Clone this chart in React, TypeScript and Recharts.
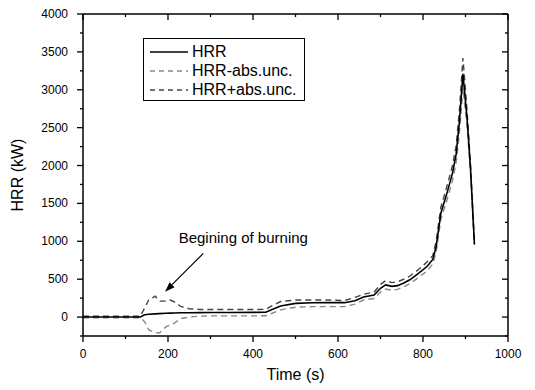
import React from 'react';
import { ComposedChart, Line, XAxis, YAxis, ReferenceLine, Legend } from 'recharts';

// time (s) and heat release rate (kW)
const time = [0, 50, 100, 135, 145, 155, 170, 180, 195, 205, 215, 230, 250, 275, 300, 350, 400, 430, 445, 465, 500, 540, 580, 615, 640, 660, 685, 700, 712, 727, 740, 755, 770, 790, 810, 823, 831, 842, 854, 869, 878, 886, 894, 904, 912, 921];
const hrr = [0, 0, 0, 0, 30, 38, 42, 45, 50, 52, 54, 56, 57, 58, 60, 60, 62, 63, 100, 145, 180, 188, 190, 190, 215, 265, 290, 380, 425, 405, 415, 450, 495, 580, 670, 760, 930, 1370, 1590, 1890, 2150, 2600, 3210, 2600, 1940, 960];
const hrrMinus = [-10, -10, -10, -10, -60, -170, -205, -210, -130, -105, -80, -20, 0, 12, 15, 15, 15, 18, 50, 95, 130, 138, 138, 138, 170, 225, 245, 330, 370, 355, 365, 400, 445, 525, 610, 700, 860, 1290, 1500, 1790, 2040, 2450, 3020, 2500, 1880, 950];
const hrrPlus = [10, 10, 10, 10, 120, 230, 275, 210, 210, 225, 200, 140, 110, 100, 100, 100, 100, 102, 150, 205, 225, 225, 225, 218, 260, 300, 330, 430, 480, 455, 465, 500, 545, 630, 730, 810, 1000, 1450, 1680, 1990, 2260, 2750, 3420, 2700, 2000, 970];

const xTicks = [0, 100, 200, 300, 400, 500, 600, 700, 800, 900, 1000];
const yTicks = [-250, 0, 250, 500, 750, 1000, 1250, 1500, 1750, 2000, 2250, 2500, 2750, 3000, 3250, 3500, 3750, 4000];

const seriesNames = ['HRR', 'HRR-abs.unc.', 'HRR+abs.unc.'];
const arrowFrom = { x: 283, y: 840 };
const arrowTo = { x: 193, y: 334 };
const note = 'Begining of burning';

const data = time.map((t, i) => ({ time: t, hrr: hrr[i], minus: hrrMinus[i], plus: hrrPlus[i] }));

const FONT = 'Arial, "Liberation Sans", sans-serif';
const W = 535;
const H = 390;
const PL = 83;
const PR = 508;
const PT = 14;
const PB = 336;

const BottomTick = (props: any) => {
  const { x, payload } = props;
  const major = payload.value % 200 === 0;
  const len = major ? 6 : 3;
  return (
    <g>
      <line x1={x} x2={x} y1={PB} y2={PB + len} stroke="#000" strokeWidth={1.3} />
      <line x1={x} x2={x} y1={PT} y2={PT + len} stroke="#000" strokeWidth={1.3} />
      {major && (
        <text x={x} y={358} textAnchor="middle" fontSize={12} fontFamily={FONT} fill="#000">
          {payload.value}
        </text>
      )}
    </g>
  );
};

const LeftTick = (props: any) => {
  const { y, payload } = props;
  const major = payload.value % 500 === 0;
  const len = major ? 6 : 3;
  return (
    <g>
      <line x1={PL} x2={PL - len} y1={y} y2={y} stroke="#000" strokeWidth={1.3} />
      <line x1={PR} x2={PR - len} y1={y} y2={y} stroke="#000" strokeWidth={1.3} />
      {major && (
        <text x={PL - 15} y={y + 4} textAnchor="end" fontSize={12} fontFamily={FONT} fill="#000">
          {payload.value}
        </text>
      )}
    </g>
  );
};

const Arrow = (props: any) => {
  const { x1, y1, x2, y2 } = props;
  const a = Math.atan2(y2 - y1, x2 - x1);
  const hl = 10;
  const hw = 3.5;
  const bx = x2 - hl * Math.cos(a);
  const by = y2 - hl * Math.sin(a);
  const px = -Math.sin(a) * hw;
  const py = Math.cos(a) * hw;
  return (
    <g>
      <line x1={x1} y1={y1} x2={bx} y2={by} stroke="#000" strokeWidth={1.2} />
      <polygon points={`${x2},${y2} ${bx + px},${by + py} ${bx - px},${by - py}`} fill="#000" />
      <text x={x1 + 40} y={y1 - 10} textAnchor="middle" fontSize={15} fontFamily={FONT} fill="#000">
        {note}
      </text>
    </g>
  );
};

const legendStyles = [
  { stroke: '#000', dash: undefined },
  { stroke: '#888', dash: '5 4' },
  { stroke: '#444', dash: '5 4' },
];

const LegendBox = () => (
  <div
    style={{
      width: 162,
      height: 63,
      boxSizing: 'border-box',
      border: '1px solid #000',
      background: '#fff',
      padding: '3px 0 0 6px',
      fontFamily: FONT,
      fontSize: 16,
      color: '#000',
    }}
  >
    {seriesNames.map((n, i) => (
      <div key={n} style={{ display: 'flex', alignItems: 'center', height: 19 }}>
        <svg width={38} height={4} style={{ marginRight: 4 }}>
          <line x1={0} x2={38} y1={2} y2={2} stroke={legendStyles[i].stroke} strokeWidth={1.5} strokeDasharray={legendStyles[i].dash} />
        </svg>
        <span>{n}</span>
      </div>
    ))}
  </div>
);

export default function App() {
  return (
    <div style={{ position: 'absolute', left: 0, top: 0, width: W, height: H, background: '#fff' }}>
      <ComposedChart width={W} height={H} data={data} margin={{ top: PT, right: W - PR, left: 0, bottom: 0 }}>
        <XAxis
          dataKey="time"
          type="number"
          domain={[0, 1000]}
          ticks={xTicks}
          interval={0}
          height={H - PB}
          tickLine={false}
          tick={<BottomTick />}
          axisLine={{ stroke: '#000', strokeWidth: 1.5 }}
          label={{ value: 'Time (s)', position: 'insideBottom', offset: 10, fontSize: 16, fontFamily: FONT, fill: '#000' }}
        />
        <YAxis
          type="number"
          domain={[-250, 4000]}
          ticks={yTicks}
          interval={0}
          width={PL}
          tickLine={false}
          tick={<LeftTick />}
          axisLine={{ stroke: '#000', strokeWidth: 1.5 }}
          label={{ value: 'HRR (kW)', angle: -90, position: 'insideLeft', offset: 17, fontSize: 16, fontFamily: FONT, fill: '#000', style: { textAnchor: 'middle' } }}
        />
        <ReferenceLine y={4000} stroke="#000" strokeWidth={1.5} />
        <ReferenceLine x={1000} stroke="#000" strokeWidth={1.5} />
        <ReferenceLine segment={[arrowFrom, arrowTo]} shape={<Arrow />} />
        <Line dataKey="minus" name={seriesNames[1]} stroke="#888" strokeWidth={1.4} strokeDasharray="6 4" dot={false} isAnimationActive={false} />
        <Line dataKey="plus" name={seriesNames[2]} stroke="#444" strokeWidth={1.4} strokeDasharray="6 4" dot={false} isAnimationActive={false} />
        <Line dataKey="hrr" name={seriesNames[0]} stroke="#000" strokeWidth={1.6} dot={false} isAnimationActive={false} />
        <Legend
          layout="vertical"
          align="center"
          verticalAlign="middle"
          content={<LegendBox />}
          wrapperStyle={{ left: 143, top: 38, width: 162, height: 63 }}
        />
      </ComposedChart>
    </div>
  );
}
